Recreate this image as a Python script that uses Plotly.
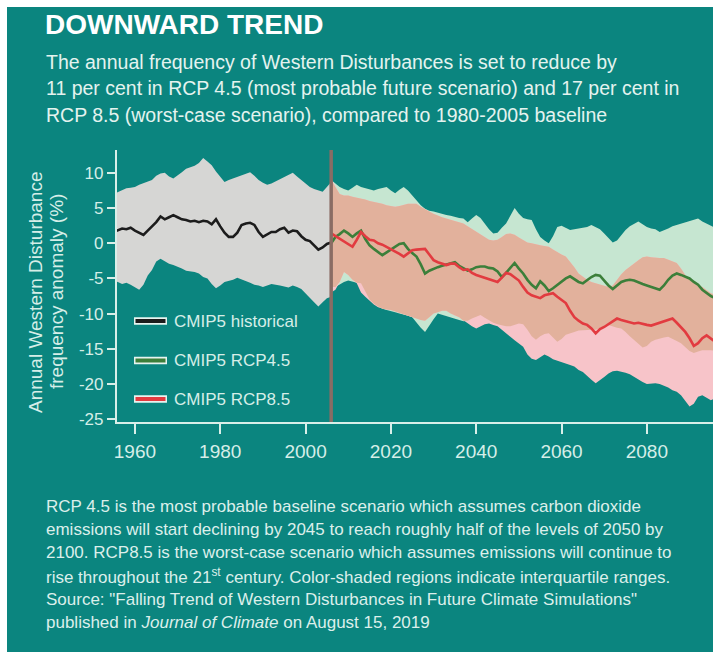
import numpy as np
import plotly.graph_objects as go

# ---------------- data ----------------
hist_years = list(range(1955, 2007))
hist_mean = [1.6, 1.9, 2.1, 2.0, 2.2, 1.8, 1.5, 1.2, 1.8, 2.4,
             3.0, 3.8, 3.4, 3.7, 4.0, 3.7, 3.4, 3.3, 3.1, 3.2,
             3.0, 3.2, 3.1, 2.7, 3.4, 2.4, 1.5, 0.9, 0.9, 1.5,
             2.6, 2.8, 2.9, 2.6, 1.6, 0.9, 1.2, 1.6, 1.6, 2.0,
             2.2, 1.5, 1.8, 1.7, 1.0, 0.5, 0.3, -0.3, -0.9, -0.6,
             -0.1, 0.1]
hist_upper = [7.0, 7.3, 7.6, 7.8, 7.9, 8.0, 8.3, 8.5, 8.7, 9.0,
              9.6, 9.9, 10.0, 9.5, 9.2, 9.6, 10.1, 10.6, 10.8, 11.0,
              11.4, 12.1, 11.6, 11.1, 10.2, 9.4, 8.7, 9.0, 9.2, 9.4,
              9.6, 9.9, 10.1, 9.6, 9.0, 8.6, 8.3, 8.5, 8.8, 9.1,
              9.4, 9.7, 10.0, 9.5, 9.0, 8.5, 8.0, 7.7, 7.5, 7.3,
              8.0, 8.7]
hist_lower = [-5.3, -5.5, -5.8, -5.6, -5.9, -6.2, -6.6, -5.9, -4.6, -3.8,
              -2.6, -2.2, -2.6, -2.9, -3.1, -3.3, -3.6, -3.9, -4.0, -4.1,
              -4.3, -4.8, -5.0, -5.8, -6.4, -6.0, -5.5, -5.3, -5.2, -4.9,
              -5.2, -5.4, -5.6, -5.9, -6.0, -6.2, -6.0, -5.8, -5.9, -6.0,
              -6.1, -6.3, -6.0, -6.2, -6.5, -7.2, -7.8, -8.4, -9.0, -8.4,
              -7.8, -7.6]

fut_years = list(range(2006, 2097))
rcp45_mean = [0.0, 0.9, 1.3, 1.8, 1.4, 0.9, 1.4, 1.8, 0.6, -0.3,
              -0.8, -1.2, -1.7, -1.3, -0.9, -0.5, -0.1, 0.0, -0.8, -1.4,
              -1.9, -3.0, -4.3, -3.9, -3.6, -3.4, -3.2, -3.0, -2.8, -2.7,
              -3.2, -3.6, -3.9, -3.7, -3.4, -3.3, -3.3, -3.5, -3.6, -4.0,
              -4.8, -4.2, -3.5, -2.8, -3.6, -4.3, -5.2, -5.9, -6.4, -5.4,
              -6.0, -6.8, -6.4, -5.9, -5.4, -5.0, -4.7, -5.1, -5.5, -5.7,
              -5.2, -4.8, -4.5, -4.6, -5.3, -6.0, -6.5, -6.0, -5.5, -5.3,
              -5.2, -5.3, -5.6, -5.8, -6.0, -6.2, -6.5, -6.6, -6.0, -5.2,
              -4.6, -4.3, -4.5, -4.8, -5.0, -5.5, -5.9, -6.6, -7.1, -7.5, -7.8]
rcp85_mean = [1.4, 1.0, 0.7, 0.2, -0.2, -0.5, 0.5, 1.6, 1.0, 0.5,
              0.4, 0.0, -0.2, -0.5, -0.8, -1.1, -1.5, -1.9, -1.4, -1.0,
              -0.9, -0.8, -0.8, -1.6, -2.4, -2.7, -2.9, -3.1, -2.9, -2.9,
              -3.4, -3.8, -3.7, -4.2, -4.5, -4.7, -4.9, -5.1, -5.3, -5.5,
              -4.9, -4.2, -4.4, -4.8, -5.3, -6.2, -7.0, -7.4, -7.6, -7.8,
              -7.4, -7.2, -7.1, -7.6, -8.0, -8.5, -9.6, -10.5, -11.0, -11.4,
              -11.6, -12.1, -12.8, -12.2, -11.9, -11.5, -11.0, -10.7, -10.9, -11.1,
              -11.3, -11.4, -11.3, -11.5, -11.6, -11.7, -11.5, -11.2, -11.0, -10.8,
              -10.7, -11.3, -12.0, -12.6, -13.5, -14.6, -14.2, -13.5, -13.1, -13.6, -14.0]
rcp45_upper = [9.0, 8.5, 8.0, 7.7, 7.5, 7.9, 8.3, 8.0, 7.8, 7.6,
               7.5, 7.7, 7.9, 8.0, 7.5, 7.1, 7.6, 8.0, 7.5, 6.8,
               6.0, 5.4, 4.9, 4.6, 4.5, 4.3, 4.2, 4.0, 3.9, 3.7,
               3.6, 3.5, 3.0, 3.5, 4.0, 3.6, 2.8, 2.0, 1.4, 1.5,
               2.2, 2.8, 3.9, 5.0, 4.2, 3.6, 3.4, 3.3, 2.0, 0.9,
               0.4, 0.0, 1.0, 2.3, 2.5, 2.2, 1.9, 2.0, 2.1, 2.1,
               2.3, 2.6, 2.3, 2.0, 1.4, 0.7, 0.1, 0.4, 1.2, 1.9,
               2.4, 2.8, 3.1, 2.7, 2.3, 2.1, 2.0, 1.6, 1.8, 2.1,
               2.4, 2.6, 2.8, 3.0, 3.2, 3.4, 3.5, 3.1, 2.8, 2.4, 2.2]
rcp45_lower = [-6.2, -6.2, -5.8, -5.5, -5.3, -5.4, -5.6, -5.7, -6.8, -8.0,
               -8.6, -9.0, -9.3, -9.5, -9.7, -9.8, -10.0, -10.2, -10.3, -10.5,
               -11.2, -12.0, -12.6, -11.8, -10.8, -10.0, -10.2, -10.4, -10.6, -10.7,
               -10.9, -11.1, -11.0, -10.7, -10.4, -10.2, -10.6, -11.0, -11.3, -11.5,
               -11.7, -11.8, -11.8, -11.6, -11.4, -11.5, -12.3, -13.2, -13.7, -13.2,
               -12.9, -12.8, -13.4, -14.0, -13.6, -13.0, -12.8, -12.6, -12.4, -12.3,
               -12.3, -12.3, -12.3, -12.0, -11.8, -11.6, -11.8, -12.0, -12.1, -12.6,
               -13.2, -13.7, -14.3, -14.8, -14.6, -14.0, -13.7, -13.5, -13.4, -13.3,
               -13.6, -13.9, -14.2, -14.8, -15.3, -15.6, -15.4, -15.2, -15.2, -15.2, -15.3]
rcp85_upper = [9.2, 8.0, 7.0, 6.8, 6.8, 6.6, 6.5, 6.4, 6.2, 6.0,
               5.9, 5.8, 5.6, 5.4, 5.3, 5.2, 5.3, 5.5, 5.6, 5.6,
               5.6, 5.2, 4.8, 4.5, 4.2, 3.9, 3.7, 3.5, 3.3, 3.1,
               3.0, 2.8, 2.4, 2.0, 1.6, 1.2, 0.8, 0.5, 0.4, 0.5,
               0.9, 1.3, 1.4, 1.2, 0.8, 0.4, 0.1, 0.0, -0.2, -0.3,
               -0.4, -0.5, -0.9, -1.3, -1.6, -1.9, -2.6, -3.4, -4.3, -4.8,
               -5.2, -5.5, -5.7, -5.9, -6.1, -6.2, -6.0, -5.2, -4.4, -3.8,
               -3.3, -2.8, -2.4, -2.0, -1.9, -2.0, -2.1, -2.1, -2.1, -2.3,
               -2.5, -2.8, -3.6, -4.5, -5.2, -5.6, -6.0, -6.2, -6.6, -7.1, -7.3]
rcp85_lower = [-7.0, -6.6, -5.5, -4.1, -4.5, -5.2, -5.7, -7.0, -7.6, -8.2,
               -8.7, -9.1, -9.3, -9.4, -9.5, -9.6, -9.8, -10.0, -10.2, -10.5,
               -10.7, -10.9, -11.0, -10.5, -10.0, -9.8, -9.6, -9.6, -10.0, -10.3,
               -10.5, -11.0, -11.4, -11.8, -12.1, -11.8, -11.5, -11.4, -11.6, -11.8,
               -12.2, -12.8, -13.3, -13.8, -14.3, -14.7, -15.8, -16.4, -16.6, -16.2,
               -15.8, -16.1, -16.5, -16.8, -17.0, -17.1, -17.3, -17.5, -18.0, -18.3,
               -18.8, -19.4, -19.9, -19.5, -19.0, -18.5, -18.2, -18.1, -18.2, -18.4,
               -18.6, -18.9, -19.3, -19.7, -20.0, -20.0, -19.9, -20.0, -20.2, -20.5,
               -20.9, -21.1, -21.6, -22.4, -23.2, -22.8, -21.8, -21.6, -22.0, -22.3, -22.0]

REF_YEAR = 2006
x_tick_vals = [1960, 1980, 2000, 2020, 2040, 2060, 2080]
y_tick_vals = [10, 5, 0, -5, -10, -15, -20, -25]
y_tick_text = ["10", "5", "0", "-5", "-10", "-15", "-20", "-25"]

legend_names = ["CMIP5 historical", "CMIP5 RCP4.5", "CMIP5 RCP8.5"]

TITLE = "DOWNWARD TREND"
SUBTITLE_LINES = [
    "The annual frequency of Western Disturbances is set to reduce by",
    "11 per cent in RCP 4.5 (most probable future scenario) and 17 per cent in",
    "RCP 8.5 (worst-case scenario), compared to 1980-2005 baseline",
]
Y_TITLE_LINES = ["Annual Western Disturbance", "frequency anomaly (%)"]
BODY_LINES = [
    "RCP 4.5 is the most probable baseline scenario which assumes carbon dioxide",
    "emissions will start declining by 2045 to reach roughly half of the levels of 2050 by",
    "2100. RCP8.5 is the worst-case scenario which assumes emissions will continue to",
    "rise throughout the 21<sup>st</sup> century. Color-shaded regions indicate interquartile ranges.",
    "Source: \"Falling Trend of Western Disturbances in Future Climate Simulations\"",
    "published in <i>Journal of Climate</i> on August 15, 2019",
]

# ---------------- styling ----------------
W, H = 713, 664
L, R, T, B = 117, 0, 150, 242
PW, PH = W - L - R, H - T - B
TEAL = "#0b857f"
GRAY = "#d6d6d4"
MINT = "#c6e6d1"
PINK = "#f7c4c9"
PEACH = "#e2b19c"
BLACK = "#1c1c1c"
GREEN = "#3c7f3a"
RED = "#e23b40"
VLINE = "#8a6c64"
AXIS = "#d9efe9"
TXT = "#d6eee8"
FONT = "Liberation Sans, Arial, sans-serif"


def px_x(px):
    return (px - L) / PW


def px_y(py):
    return (H - B - py) / PH


fig = go.Figure()


def band(xs, hi, lo, color):
    xs = list(xs)
    fig.add_trace(go.Scatter(
        x=xs + xs[::-1], y=list(hi) + list(lo)[::-1],
        fill="toself", fillcolor=color, mode="lines",
        line=dict(width=0, color=color), hoverinfo="skip", showlegend=False))


band(hist_years, hist_upper, hist_lower, GRAY)
band(fut_years, rcp45_upper, rcp45_lower, MINT)
band(fut_years, rcp85_upper, rcp85_lower, PINK)
# overlap of the two interquartile ranges
ov_lo = np.maximum(np.array(rcp45_lower), np.array(rcp85_lower))
ov_hi = np.maximum(np.minimum(np.array(rcp45_upper), np.array(rcp85_upper)), ov_lo)
band(fut_years, ov_hi, ov_lo, PEACH)

for xs, ys, col in [(hist_years, hist_mean, BLACK),
                    (fut_years, rcp45_mean, GREEN),
                    (fut_years, rcp85_mean, RED)]:
    fig.add_trace(go.Scatter(x=xs, y=ys, mode="lines",
                             line=dict(color=col, width=2.6),
                             hoverinfo="skip", showlegend=False))

fig.add_vline(x=REF_YEAR, line=dict(color=VLINE, width=3.5), layer="above")

shapes = []
# teal card with white frame
shapes.append(dict(type="rect", xref="paper", yref="paper", layer="below",
                   x0=px_x(7), x1=px_x(W + 2), y0=px_y(652), y1=px_y(7),
                   fillcolor=TEAL, line=dict(width=0)))

annotations = []


def note(text, x, y, size, color=TXT, xanchor="left", angle=0, bold=False):
    if bold:
        text = "<b>" + text + "</b>"
    annotations.append(dict(text=text, xref="paper", yref="paper",
                            x=px_x(x), y=px_y(y), xanchor=xanchor, yanchor="middle",
                            showarrow=False, textangle=angle,
                            font=dict(family=FONT, size=size, color=color)))


note(TITLE, 43, 24, 28, "#ffffff", bold=True)
for i, line in enumerate(SUBTITLE_LINES):
    note(line, 44, 62 + i * 26.3, 19.5, "#e4f3ef")
for i, line in enumerate(Y_TITLE_LINES):
    note(line, 35 + i * 21, 292, 19, TXT, xanchor="center", angle=-90)
body_y = [506, 529.5, 552.5, 575.5, 599, 622]
for line, yy in zip(BODY_LINES, body_y):
    note(line, 44, yy, 17, "#dcefeb")

# manual legend
legend_colors = [BLACK, GREEN, RED]
legend_y = [321, 360.5, 399]
for name, col, yy in zip(legend_names, legend_colors, legend_y):
    shapes.append(dict(type="line", xref="paper", yref="paper", layer="above",
                       x0=px_x(134), x1=px_x(167), y0=px_y(yy), y1=px_y(yy),
                       line=dict(color="#e6f4ef", width=7.5)))
    shapes.append(dict(type="line", xref="paper", yref="paper", layer="above",
                       x0=px_x(135.5), x1=px_x(165.5), y0=px_y(yy), y1=px_y(yy),
                       line=dict(color=col, width=4)))
    note(name, 172, yy, 17, TXT)

fig.update_layout(
    width=W, height=H,
    margin=dict(l=L, r=R, t=T, b=B, pad=0),
    paper_bgcolor="#ffffff", plot_bgcolor="rgba(0,0,0,0)",
    font=dict(family=FONT, color=TXT),
    shapes=list(fig.layout.shapes) + shapes,
    annotations=annotations,
    showlegend=False,
)
fig.update_xaxes(range=[1955.8, 2095.5], tickvals=x_tick_vals,
                 showgrid=False, zeroline=False, showline=True,
                 linecolor=AXIS, linewidth=2.2,
                 ticks="outside", ticklen=10, tickwidth=2.2, tickcolor=AXIS,
                 tickfont=dict(family=FONT, size=19, color=TXT),
                 ticklabelstandoff=1)
fig.update_yaxes(range=[-25.4, 13.25], tickvals=y_tick_vals, ticktext=y_tick_text,
                 showgrid=False, zeroline=False, showline=True,
                 linecolor=AXIS, linewidth=2.2,
                 ticks="outside", ticklen=8, tickwidth=2.2, tickcolor=AXIS,
                 tickfont=dict(family=FONT, size=17, color=TXT))

fig.write_html("out.html")
